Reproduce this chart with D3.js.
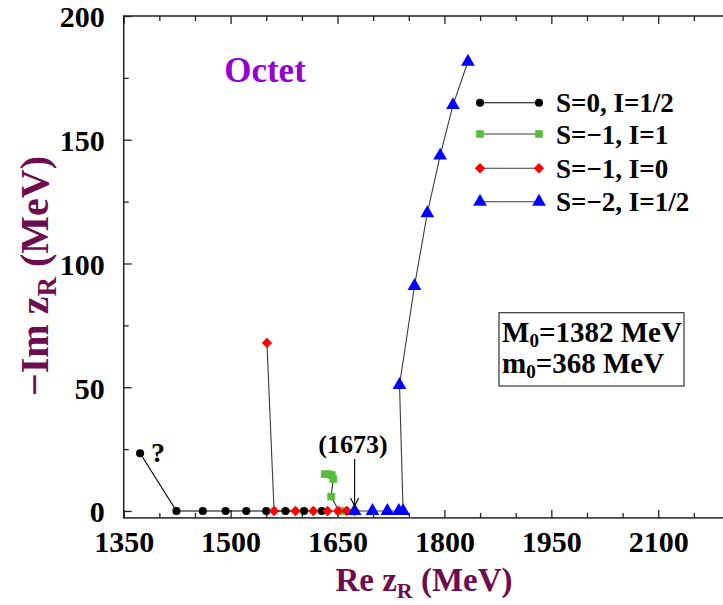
<!DOCTYPE html>
<html><head><meta charset="utf-8">
<script src="https://cdn.jsdelivr.net/npm/d3@7"></script>
<style>
body{margin:0;background:#fff;}
svg text{font-family:"Liberation Serif","Times New Roman",serif;font-weight:bold;}
</style></head><body>
<svg id="chart" width="723" height="605"></svg>
<script>
// Pole trajectories in the complex energy plane: Re z_R and -Im z_R (MeV)
const xMajorTicks = [1350, 1500, 1650, 1800, 1950, 2100];
const yMajorTicks = [0, 50, 100, 150, 200];
const seriesNames = ["S=0, I=1/2", "S=\u22121, I=1", "S=\u22121, I=0", "S=\u22122, I=1/2"];
const seriesColors = ["#000000", "#55bf3b", "#ff0000", "#0000ff"];
const seriesLineColors = ["#000000", "#3a3a3a", "#3a3a3a", "#3a3a3a"];

// S=0, I=1/2
const s0Re = [1373, 1424, 1461, 1493, 1522, 1550, 1577, 1603, 1628];
const s0Im = [23.3, 0, 0, 0, 0, 0, 0, 0, 0];
// S=-1, I=1
const s1aRe = [1632, 1638, 1642, 1644, 1641, 1652, 1661];
const s1aIm = [14.9, 14.9, 14.5, 12.9, 5.8, 0, 0];
// S=-1, I=0
const s1bRe = [1551, 1561, 1591, 1616, 1636, 1651, 1663, 1674];
const s1bIm = [67.9, 0, 0, 0, 0, 0, 0, 0];
// S=-2, I=1/2
const s2Re = [1833, 1812, 1794, 1776, 1758, 1737, 1742, 1736, 1720, 1699, 1674];
const s2Im = [181.5, 164, 143.6, 120.3, 90.9, 50.9, 0, 0, 0, 0, 0];

const seriesRe = [s0Re, s1aRe, s1bRe, s2Re];
const seriesIm = [s0Im, s1aIm, s1bIm, s2Im];
const markerTypes = [d3.symbolCircle, d3.symbolSquare, d3.symbolSquare, d3.symbolTriangle];
const markerSizes = [52, 58, 54, 82];
const markerRotate = [0, 0, 45, 0];

const svg = d3.select("#chart");
const plotL = 123.7, plotR = 729.5, plotT = 16, plotB = 517.9;

const x = d3.scaleLinear().domain([1350, 2200]).range([plotL, plotR]);
const y = d3.scaleLinear().domain([-2.8, 200]).range([plotB, plotT]);

const xMinor = d3.range(1350, 2201, 50).filter(v => !xMajorTicks.includes(v));
const yMinor = d3.range(0, 201, 25).filter(v => !yMajorTicks.includes(v));

function styleAxis(g) {
  g.select(".domain").remove();
  g.selectAll(".tick line").attr("stroke", "#222").attr("stroke-width", 1.3);
}

// bottom axis: major labelled ticks and minor ticks, both pointing inward
svg.append("g").attr("transform", `translate(0,${plotB})`)
  .call(d3.axisBottom(x).tickValues(xMajorTicks).tickSize(-8).tickPadding(24).tickFormat(d3.format("d")))
  .call(styleAxis)
  .call(g => g.selectAll("text").attr("font-size", 30).attr("fill", "#000").attr("dy", "0.35em"));
svg.append("g").attr("transform", `translate(0,${plotB})`)
  .call(d3.axisBottom(x).tickValues(xMinor).tickSize(-5).tickFormat(""))
  .call(styleAxis);
// top axis
svg.append("g").attr("transform", `translate(0,${plotT})`)
  .call(d3.axisTop(x).tickValues(xMajorTicks).tickSize(-8).tickFormat(""))
  .call(styleAxis);
svg.append("g").attr("transform", `translate(0,${plotT})`)
  .call(d3.axisTop(x).tickValues(xMinor).tickSize(-5).tickFormat(""))
  .call(styleAxis);
// left axis
svg.append("g").attr("transform", `translate(${plotL},0)`)
  .call(d3.axisLeft(y).tickValues(yMajorTicks).tickSize(-8).tickPadding(19).tickFormat(d3.format("d")))
  .call(styleAxis)
  .call(g => g.selectAll("text").attr("font-size", 30).attr("fill", "#000").attr("dy", "0.36em"));
svg.append("g").attr("transform", `translate(${plotL},0)`)
  .call(d3.axisLeft(y).tickValues(yMinor).tickSize(-5).tickFormat(""))
  .call(styleAxis);

// frame
svg.append("rect").attr("x", plotL).attr("y", plotT)
  .attr("width", plotR - plotL).attr("height", plotB - plotT)
  .attr("fill", "none").attr("stroke", "#222").attr("stroke-width", 1.5);

// trajectories
const line = d3.line().x(d => x(d[0])).y(d => y(d[1]));
const seriesPts = seriesRe.map((re, i) => re.map((v, j) => [v, seriesIm[i][j]]));

seriesPts.forEach((pts, i) => {
  svg.append("path").datum(pts).attr("d", line)
    .attr("fill", "none").attr("stroke", seriesLineColors[i]).attr("stroke-width", 1.1);
});
seriesPts.forEach((pts, i) => {
  svg.append("g").selectAll("path").data(pts).join("path")
    .attr("transform", d => `translate(${x(d[0])},${y(d[1])}) rotate(${markerRotate[i]})`)
    .attr("d", d3.symbol().type(markerTypes[i]).size(markerSizes[i]))
    .attr("fill", seriesColors[i]);
});

// legend
const legendY = [102.7, 134, 168.3, 201.7];
const lg = svg.append("g");
seriesNames.forEach((name, i) => {
  const yy = legendY[i];
  lg.append("line").attr("x1", 480).attr("x2", 539).attr("y1", yy).attr("y2", yy)
    .attr("stroke", seriesLineColors[i]).attr("stroke-width", 1.1);
  [480, 539].forEach(xx => {
    lg.append("path").attr("transform", `translate(${xx},${yy}) rotate(${markerRotate[i]})`)
      .attr("d", d3.symbol().type(markerTypes[i]).size(markerSizes[i])).attr("fill", seriesColors[i]);
  });
  lg.append("text").attr("x", 556).attr("y", yy + 9.5).attr("font-size", 27).attr("fill", "#000").text(name);
});

// title
svg.append("text").attr("x", 265).attr("y", 82).attr("text-anchor", "middle")
  .attr("font-size", 35).attr("fill", "#9400d3").text("Octet");

// parameter box
svg.append("rect").attr("x", 499).attr("y", 312.7).attr("width", 185).attr("height", 73.3)
  .attr("fill", "#fff").attr("stroke", "#333").attr("stroke-width", 1.2);
const boxLines = [["M", "0", "=1382 MeV"], ["m", "0", "=368 MeV"]];
boxLines.forEach((parts, i) => {
  const t = svg.append("text").attr("x", 502).attr("y", 341.7 + i * 31).attr("font-size", 29).attr("fill", "#000");
  t.append("tspan").text(parts[0]);
  t.append("tspan").attr("font-size", 19).attr("dy", 5).text(parts[1]);
  t.append("tspan").attr("dy", -5).text(parts[2]);
});

// pole annotations
svg.append("text").attr("x", 353).attr("y", 453).attr("text-anchor", "middle")
  .attr("font-size", 26).attr("fill", "#000").text("(1673)");
const ax = x(1674);
svg.append("line").attr("x1", ax).attr("x2", ax).attr("y1", 459).attr("y2", 506)
  .attr("stroke", "#000").attr("stroke-width", 1.1);
svg.append("path").attr("d", `M${ax - 4},${498} L${ax},${506} L${ax + 4},${498}`)
  .attr("fill", "none").attr("stroke", "#000").attr("stroke-width", 1.1);
svg.append("text").attr("x", x(s0Re[0]) + 11).attr("y", 462).attr("font-size", 28).attr("fill", "#000").text("?");

// axis titles
const xt = svg.append("text").attr("x", 424).attr("y", 591).attr("text-anchor", "middle")
  .attr("font-size", 33).attr("fill", "#6b0d4f");
xt.append("tspan").text("Re z");
xt.append("tspan").attr("font-size", 22).attr("dy", 7).text("R");
xt.append("tspan").attr("dy", -7).text(" (MeV)");

const yt = svg.append("text").attr("transform", "translate(48,276) rotate(-90)").attr("text-anchor", "middle")
  .attr("font-size", 40).attr("fill", "#6b0d4f");
yt.append("tspan").text("\u2212Im z");
yt.append("tspan").attr("font-size", 27).attr("dy", 8).text("R");
yt.append("tspan").attr("dy", -8).text(" (MeV)");
</script>
</body></html>
